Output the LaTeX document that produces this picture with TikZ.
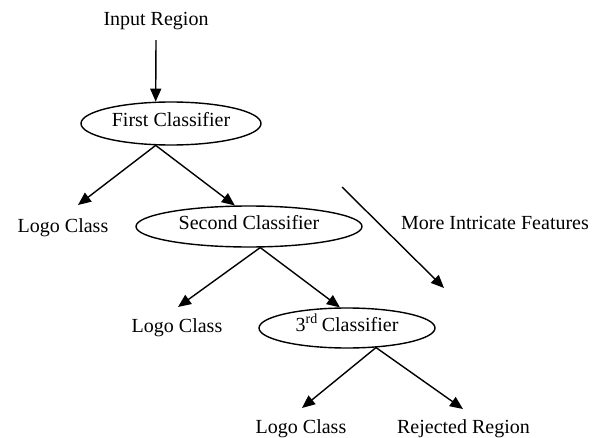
\documentclass[tikz,border=0pt]{standalone}
\usepackage{fontspec}
\setmainfont{Liberation Serif}
\usetikzlibrary{arrows.meta,shapes.geometric}
\begin{document}
\begin{tikzpicture}[x=1pt,y=-1pt,
  conn/.style={line width=1.4pt,-{Triangle[length=13pt,width=11pt]}},
  cls/.style={draw,ellipse,line width=1.4pt,inner sep=0pt,text height=14pt,text depth=7.5pt,font=\fontsize{20}{24}\selectfont},
  lbl/.style={anchor=base,inner sep=0pt,font=\fontsize{20}{24}\selectfont}]
\useasboundingbox (0,0) rectangle (601,438);
% texts
\node[lbl] (in) at (156,26) {Input Region};
\node[cls,minimum width=180pt,minimum height=43pt] (e1) at (171,123.5) {First Classifier};
\node[cls,minimum width=226pt,minimum height=41pt] (e2) at (249,226.5) {Second Classifier};
\node[cls,minimum width=176pt,minimum height=40pt] (e3) at (347,328) {3\textsuperscript{rd}\kern-1pt\ Classifier};
\node[lbl] (logo1) at (63,232) {Logo Class};
\node[lbl] (logo2) at (177,332) {Logo Class};
\node[lbl] (logo3) at (301,433) {Logo Class};
\node[lbl] (rej) at (463.5,433) {Rejected Region};
\node[lbl] (more) at (495,229) {More Intricate Features};
% free ends
\coordinate (t1) at (78,205);
\coordinate (t2) at (178,307);
\coordinate (t3) at (302,408);
\coordinate (t4) at (463,409);
\coordinate (d1) at (342,187);
\coordinate (d2) at (444,288);
% connectors
\draw[conn] ([yshift=-9.5pt]in.south) -- (e1.125);
\draw[conn] (e1.235) -- (t1);
\draw[conn] (e1.235) -- (e2.124);
\draw[conn] (e2.298) -- (t2);
\draw[conn] (e2.298) -- (e3.109);
\draw[conn] (e3.326) -- (t3);
\draw[conn] (e3.326) -- (t4);
\draw[conn] (d1) -- (d2);
\end{tikzpicture}
\end{document}
